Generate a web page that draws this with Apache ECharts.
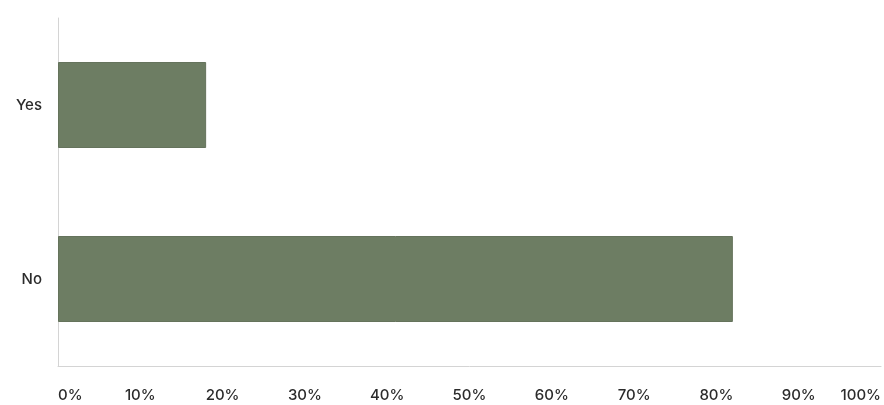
<!DOCTYPE html>
<html>
<head>
<meta charset="utf-8">
<script src="https://cdn.jsdelivr.net/npm/echarts@6/dist/echarts.min.js"></script>
<style>html,body{margin:0;padding:0;background:#fff;}#c{width:884px;height:405px;}</style>
</head>
<body>
<div id="c"></div>
<script>
const categories = ['No', 'Yes'];
const values = [82, 18];
const tickLabels = ['0%', '10%', '20%', '30%', '40%', '50%', '60%', '70%', '80%', '90%', '100%'];

const chart = echarts.init(document.getElementById('c'), null, {renderer: 'canvas'});
chart.setOption({
  animation: false,
  backgroundColor: '#ffffff',
  grid: {left: 58, right: 0, top: 18, bottom: 39, containLabel: false},
  xAxis: {
    type: 'value', min: 0, max: 100, interval: 10,
    axisLine: {show: true, lineStyle: {color: '#d4d4d4', width: 1}},
    axisTick: {show: false},
    splitLine: {show: false},
    axisLabel: {
      margin: 22, color: '#2b2b2b', fontSize: 15, fontWeight: 500, fontFamily: 'Inter',
      alignMinLabel: 'left', alignMaxLabel: 'right',
      formatter: v => tickLabels[Math.round(v / 10)]
    }
  },
  yAxis: {
    type: 'category', data: categories,
    axisLine: {show: true, lineStyle: {color: '#d4d4d4', width: 1}},
    axisTick: {show: false},
    axisLabel: {margin: 16, color: '#2b2b2b', fontSize: 15, fontWeight: 500, fontFamily: 'Inter'}
  },
  series: [{
    type: 'bar', data: values, barWidth: 86,
    itemStyle: {color: '#6d7d63', borderColor: '#65735c', borderWidth: 1}
  }]
});
</script>
</body>
</html>
